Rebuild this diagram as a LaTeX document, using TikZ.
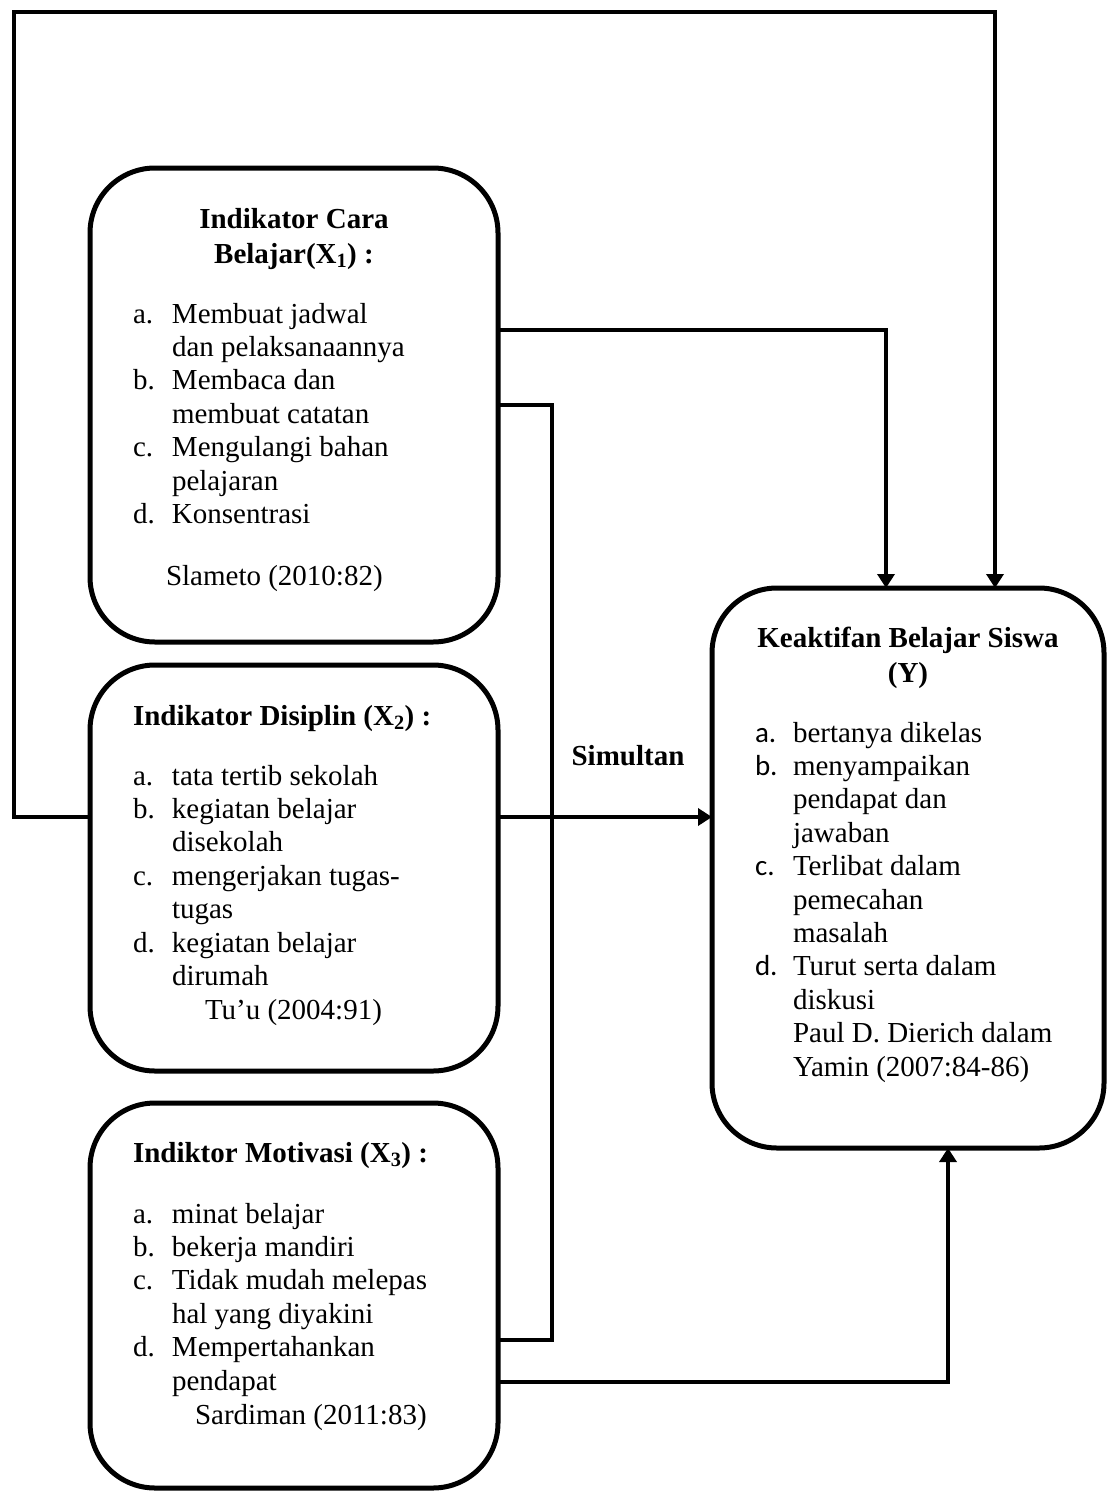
\documentclass[tikz,border=0pt]{standalone}
\usepackage{fontspec}
\setmainfont{Liberation Serif}
\newfontfamily\calib{Carlito}
\usepackage{array}
\usetikzlibrary{arrows.meta}
\begin{document}
\begin{tikzpicture}[x=1pt,y=-1pt,
  box/.style={draw, line width=5pt, rounded corners=65pt, inner sep=0pt, outer sep=0pt},
  conn/.style={line width=4.5pt},
  arr/.style={conn, -{Triangle[length=14pt,width=17pt]}},
  txt/.style={inner sep=0pt, outer sep=0pt, font=\fontsize{29pt}{33.4pt}\selectfont},
  ttl/.style={inner sep=0pt, outer sep=0pt, font=\fontsize{29pt}{35pt}\selectfont\bfseries}]
\useasboundingbox (0,0) rectangle (1107,1491);

% boxes
\node[box, minimum width=408pt, minimum height=474pt] (x1) at (294,405) {};
\node[box, minimum width=408pt, minimum height=406pt] (x2) at (294,868) {};
\node[box, minimum width=408pt, minimum height=385pt] (x3) at (294,1295.5) {};
\node[box, minimum width=392pt, minimum height=560pt] (y) at (908,868) {};

% X1 texts
\node[ttl, anchor=base] (x1t) at (294,228) {\begin{tabular}[t]{@{}c@{}}Indikator Cara\\Belajar(X\textsubscript{1}) :\end{tabular}};
\node[txt, anchor=base west] (x1l) at (133,323) {\begin{tabular}[t]{@{}p{39pt}@{}l@{}}
a.&Membuat jadwal\\&dan pelaksanaannya\\b.&Membaca dan\\&membuat catatan\\c.&Mengulangi bahan\\&pelajaran\\d.&Konsentrasi\end{tabular}};
\node[txt, anchor=base west] (x1s) at (166,585) {Slameto (2010:82)};

% X2 texts
\node[ttl, anchor=base west] (x2t) at (133,725) {Indikator Disiplin (X\textsubscript{2}) :};
\node[txt, anchor=base west] (x2l) at (133,785) {\begin{tabular}[t]{@{}p{39pt}@{}l@{}}
a.&tata tertib sekolah\\b.&kegiatan belajar\\&disekolah\\c.&mengerjakan tugas-\\&tugas\\d.&kegiatan belajar\\&dirumah\end{tabular}};
\node[txt, anchor=base west] (x2s) at (205,1019) {Tu’u (2004:91)};

% X3 texts
\node[ttl, anchor=base west] (x3t) at (133,1162) {Indiktor Motivasi (X\textsubscript{3}) :};
\node[txt, anchor=base west] (x3l) at (133,1223) {\begin{tabular}[t]{@{}p{39pt}@{}l@{}}
a.&minat belajar\\b.&bekerja mandiri\\c.&Tidak mudah melepas\\&hal yang diyakini\\d.&Mempertahankan\\&pendapat\end{tabular}};
\node[txt, anchor=base west] (x3s) at (195,1424) {Sardiman (2011:83)};

% Y texts
\node[ttl, anchor=base] (yt) at (908,647) {\begin{tabular}[t]{@{}c@{}}Keaktifan Belajar Siswa\\(Y)\end{tabular}};
\node[txt, anchor=base west] (yl) at (755,742) {\begin{tabular}[t]{@{}p{38pt}@{}l@{}}
{\calib a.}&bertanya dikelas\\{\calib b.}&menyampaikan\\&pendapat dan\\&jawaban\\{\calib c.}&Terlibat dalam\\&pemecahan\\&masalah\\{\calib d.}&Turut serta dalam\\&diskusi\\&Paul D. Dierich dalam\\&Yamin (2007:84-86)\end{tabular}};

% label
\node[ttl, anchor=base] (sim) at (628,765) {Simultan};

% helper coordinates
\coordinate (l1) at (14,817);
\coordinate (l2) at (14,12);
\coordinate (l3) at (995,12);
\coordinate (b1) at (886,330);
\coordinate (s1) at (552,405);
\coordinate (s2) at (552,1340);
\coordinate (a3) at (948,1382);
\coordinate (m2) at (600,817);

% connectors
\draw[arr] (x2.west |- l1) -- (l1) -- (l2) -- (l3) -- (y.north -| l3);
\draw[arr] (x1.east |- b1) -- (b1) -- (y.north -| b1);
\draw[conn] (x1.east |- s1) -- (s1) -- (s2) -- (x3.east |- s2);
\draw[arr] (x2.east |- m2) -- (y.west |- m2);
\draw[arr] (x3.east |- a3) -- (a3) -- (y.south -| a3);
\end{tikzpicture}
\end{document}
